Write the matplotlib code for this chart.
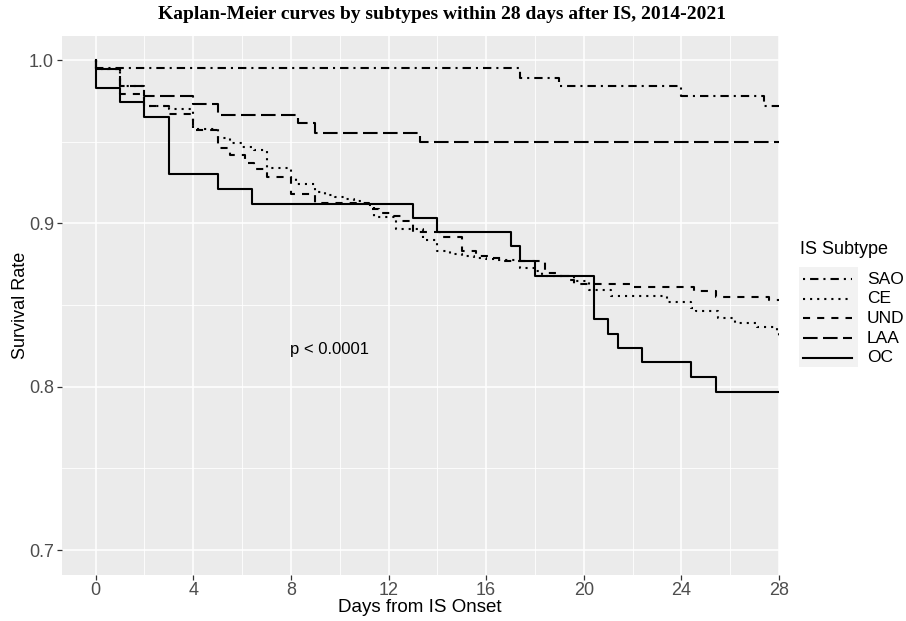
import matplotlib
matplotlib.use("Agg")
import matplotlib.pyplot as plt
from matplotlib.lines import Line2D
from matplotlib.patches import Rectangle

# Kaplan-Meier step curves
sao_t = [0, 0, 17.4, 19.0, 24.0, 27.4, 28]
sao_s = [1.0, 0.995, 0.989, 0.984, 0.978, 0.972, 0.972]

ce_t = [0, 0, 1, 2, 3, 4, 5, 5.5, 6, 6.5, 7, 8, 8.2, 9, 9.4, 9.8, 10.2, 10.6, 11.0,
        11.4, 12.3, 13.4, 14.0, 14.5, 15.0, 15.5, 16.0, 16.5, 17.2, 17.4, 18.0, 18.3,
        19.6, 20.2, 21.1, 23.4, 24.4, 24.6, 25.5, 26.2, 27.1, 27.9, 28]
ce_s = [1.0, 0.9945, 0.984, 0.972, 0.970, 0.9575, 0.952, 0.949, 0.947, 0.945, 0.934,
        0.928, 0.9243, 0.919, 0.9175, 0.916, 0.915, 0.9135, 0.9114, 0.904, 0.8965,
        0.890, 0.8833, 0.8815, 0.880, 0.879, 0.878, 0.8775, 0.877, 0.8727, 0.8707,
        0.8676, 0.8649, 0.8595, 0.8554, 0.8518, 0.8483, 0.8463, 0.842, 0.8391, 0.8365,
        0.833, 0.8285]

und_t = [0, 0, 1, 2, 3, 4, 5, 5.5, 6.1, 6.5, 7, 8, 9, 11.2, 11.6, 12.1, 12.5, 13, 14.1,
         15, 15.6, 16.1, 16.6, 18.4, 18.9, 19.35, 19.6, 22.0, 24.5, 25.4, 27.6, 28]
und_s = [1.0, 0.9945, 0.979, 0.972, 0.967, 0.957, 0.946, 0.942, 0.937, 0.933, 0.9287,
         0.918, 0.9125, 0.9088, 0.9063, 0.9047, 0.9012, 0.895, 0.8915, 0.883, 0.880,
         0.879, 0.8772, 0.8697, 0.868, 0.8656, 0.863, 0.8611, 0.8589, 0.855, 0.8534, 0.8534]

laa_t = [0, 0, 1, 2, 4, 5, 8.3, 9, 13.3, 28]
laa_s = [1.0, 0.9945, 0.984, 0.978, 0.973, 0.9666, 0.9613, 0.9552, 0.950, 0.950]

oc_t = [0, 0, 1, 2, 3, 5, 6.4, 13, 14, 17, 17.4, 18, 20.4, 21, 21.4, 22.4, 24.4, 25.4, 28]
oc_s = [1.0, 0.983, 0.974, 0.965, 0.930, 0.921, 0.912, 0.9035, 0.8945, 0.886, 0.877,
        0.868, 0.8416, 0.8324, 0.8239, 0.8151, 0.806, 0.797, 0.797]

groups = ["SAO", "CE", "UND", "LAA", "OC"]
curves = {"SAO": (sao_t, sao_s), "CE": (ce_t, ce_s), "UND": (und_t, und_s),
          "LAA": (laa_t, laa_s), "OC": (oc_t, oc_s)}
styles = {"SAO": (0, (1, 2.4, 4, 2.4)), "CE": (0, (1, 2.4)), "UND": (0, (3.4, 3.4)),
          "LAA": (0, (7, 2.6)), "OC": "solid"}

x_ticks = [0, 4, 8, 12, 16, 20, 24, 28]
y_ticks = [0.7, 0.8, 0.9, 1.0]

LW = 1.5
fig = plt.figure(figsize=(9.06, 6.21), dpi=100)
ax = fig.add_axes([0.0679, 0.0747, 0.7919, 0.8681])
ax.set_facecolor("#EBEBEB")
ax.set_xlim(-1.4, 28)
ax.set_ylim(0.685, 1.015)

# grid
for v in [2, 6, 10, 14, 18, 22, 26]:
    ax.axvline(v, color="white", lw=0.6, zorder=0)
for v in [0.75, 0.85, 0.95]:
    ax.axhline(v, color="white", lw=0.6, zorder=0)
for v in x_ticks:
    ax.axvline(v, color="white", lw=1.1, zorder=0)
for v in y_ticks:
    ax.axhline(v, color="white", lw=1.1, zorder=0)

for g in groups:
    t, s = curves[g]
    ax.step(t, s, where="post", color="black", lw=LW, linestyle=styles[g], zorder=3)

ax.text(9.6, 0.8225, "p < 0.0001", ha="center", va="center", fontsize=12,
        family="Liberation Sans", color="black")

ax.set_xticks(x_ticks)
ax.set_yticks(y_ticks)
ax.set_xticklabels([str(v) for v in x_ticks])
ax.set_yticklabels(["%.1f" % v for v in y_ticks])
ax.tick_params(length=3.5, width=0.9, color="#333333", labelcolor="#4D4D4D",
               labelsize=13, pad=2)
for lab in ax.get_xticklabels() + ax.get_yticklabels():
    lab.set_family("Liberation Sans")
for sp in ax.spines.values():
    sp.set_visible(False)

ax.set_xlabel("Days from IS Onset", fontsize=13.5, family="Liberation Sans")
ax.set_ylabel("Survival Rate", fontsize=13, family="Liberation Sans")
ax.xaxis.set_label_coords(0.5, -0.045)
ax.yaxis.set_label_coords(-0.046, 0.5)

fig.text(0.488, 0.976, "Kaplan-Meier curves by subtypes within 28 days after IS, 2014-2021",
         ha="center", va="center", fontsize=14, fontweight="bold", family="Liberation Serif")

# legend drawn by hand to match ggplot layout
W, H = 906.0, 621.0
fig.text(800 / W, 1 - 250 / H, "IS Subtype", ha="left", va="center", fontsize=13,
         family="Liberation Sans")
fig.add_artist(Rectangle((799 / W, 1 - 367 / H), 59 / W, 100 / H, transform=fig.transFigure,
                         facecolor="#F2F2F2", edgecolor="none"))
for i, g in enumerate(groups):
    yy = 1 - (279 + 19.75 * i) / H
    fig.add_artist(Line2D([803 / W, 852 / W], [yy, yy], transform=fig.transFigure,
                          color="black", lw=LW, linestyle=styles[g]))
    fig.text(867 / W, yy, g, ha="left", va="center", fontsize=12.5, family="Liberation Sans")

fig.savefig("out.png", dpi=100)
